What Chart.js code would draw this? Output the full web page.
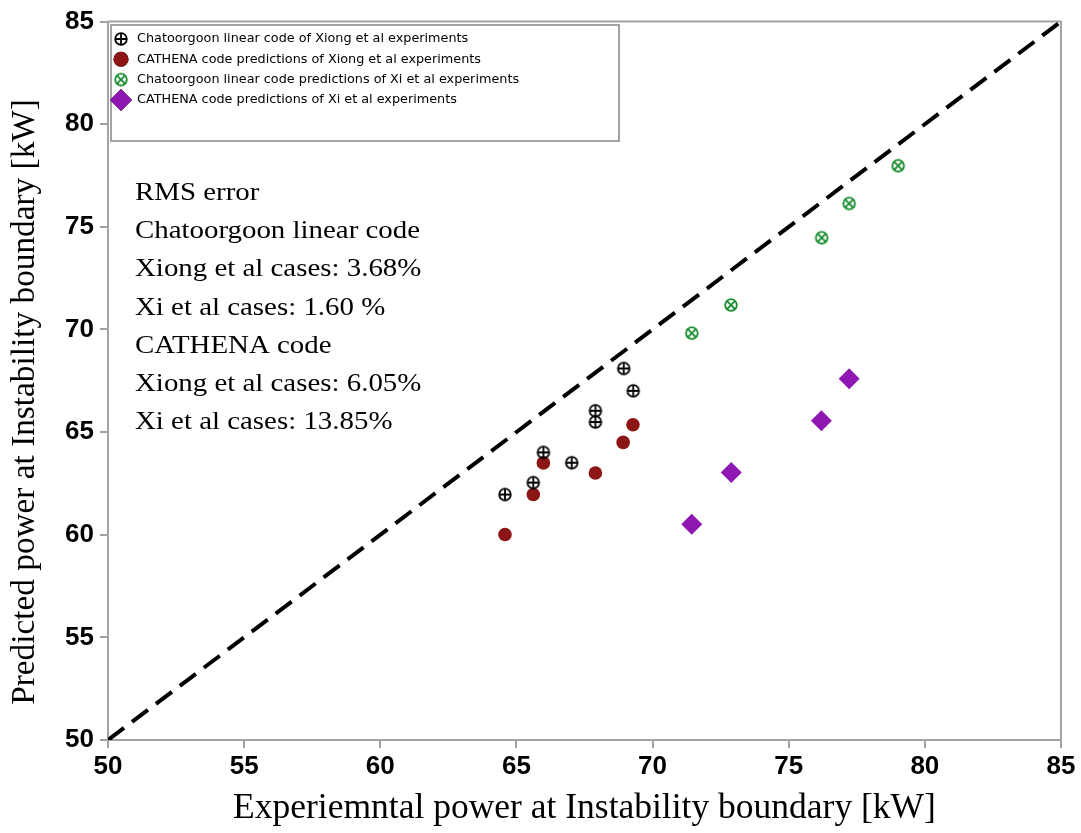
<!DOCTYPE html>
<html>
<head>
<meta charset="utf-8">
<script src="https://cdn.jsdelivr.net/npm/chart.js@4.4.1/dist/chart.umd.min.js"></script>
<style>
  html, body { margin: 0; padding: 0; background: #fff; }
  canvas { display: block; }
</style>
</head>
<body>
<canvas id="c" width="1081" height="833"></canvas>
<script>
// Experimental instability-boundary power [kW]
const xiongExpPower     = [64.58, 65.62, 65.99, 67.03, 67.90, 67.90, 68.94, 69.29];
const chatoorgoonXiong  = [61.96, 62.54, 64.01, 63.51, 65.49, 66.04, 68.10, 67.01];

const xiongExpPowerCath = [64.58, 65.62, 65.99, 67.90, 68.92, 69.28];
const cathenaXiong      = [60.01, 61.96, 63.50, 63.01, 64.50, 65.36];

const xiExpPower        = [71.44, 72.88, 76.21, 77.22, 79.02];
const chatoorgoonXi     = [69.82, 71.19, 74.47, 76.14, 77.98];

const xiExpPowerCath    = [71.44, 72.89, 76.20, 77.22];
const cathenaXi         = [60.51, 63.03, 65.55, 67.60];

// Reference line: predicted = experimental
const parityX = [50, 85];
const parityY = [50, 85];

const axisTicks = [50, 55, 60, 65, 70, 75, 80, 85];

const seriesLabels = [
  'Chatoorgoon linear code of Xiong et al experiments',
  'CATHENA code predictions of Xiong et al experiments',
  'Chatoorgoon linear code predictions of Xi et al experiments',
  'CATHENA code predictions of Xi et al experiments'
];

const rmsNotes = [
  'RMS error',
  'Chatoorgoon linear code',
  'Xiong et al cases: 3.68%',
  'Xi et al cases: 1.60 %',
  'CATHENA code',
  'Xiong et al cases: 6.05%',
  'Xi et al cases: 13.85%'
];

const xTitle = 'Experiemntal power at Instability boundary [kW]';
const yTitle = 'Predicted power at Instability boundary [kW]';

const GREY = '#a3a3a3';
const RED = '#8c1515';
const PURPLE = '#8f18b3';
const GREEN = '#138a2c';

function pairs(xs, ys) { return xs.map((x, i) => ({ x: x, y: ys[i] })); }

// Circle-with-cross marker glyphs
function crossCircle(color, rotated) {
  const c = document.createElement('canvas');
  c.width = 16; c.height = 16;
  const g = c.getContext('2d');
  g.strokeStyle = color;
  g.lineWidth = 1.8;
  g.beginPath(); g.arc(8, 8, 5.8, 0, Math.PI * 2); g.stroke();
  g.beginPath();
  if (rotated) {
    const d = 4.1;
    g.moveTo(8 - d, 8 - d); g.lineTo(8 + d, 8 + d);
    g.moveTo(8 + d, 8 - d); g.lineTo(8 - d, 8 + d);
  } else {
    g.moveTo(2.2, 8); g.lineTo(13.8, 8);
    g.moveTo(8, 2.2); g.lineTo(8, 13.8);
  }
  g.stroke();
  return c;
}
const plusMark = crossCircle('#000', false);
const timesMark = crossCircle(GREEN, true);

const framePlugin = {
  id: 'frame',
  beforeDatasetsDraw(chart) {
    const a = chart.chartArea, ctx = chart.ctx;
    ctx.save();
    ctx.strokeStyle = GREY;
    ctx.lineWidth = 2;
    ctx.beginPath();
    ctx.moveTo(a.left, a.top); ctx.lineTo(a.right, a.top); ctx.lineTo(a.right, a.bottom);
    ctx.stroke();
    ctx.restore();
  }
};

// Axis titles in a serif face, placed around the plot frame
const titlesPlugin = {
  id: 'axisTitles',
  afterDraw(chart) {
    const ctx = chart.ctx, a = chart.chartArea;
    ctx.save();
    ctx.fillStyle = '#000';
    ctx.textAlign = 'center';
    ctx.textBaseline = 'alphabetic';
    ctx.font = '35.5px "Liberation Serif"';
    ctx.fillText(xTitle, (a.left + a.right) / 2, 818);
    ctx.translate(34, 402);
    ctx.rotate(-Math.PI / 2);
    ctx.font = '33.3px "Liberation Serif"';
    ctx.fillText(yTitle, 0, 0);
    ctx.restore();
  }
};

const legendPlugin = {
  id: 'boxLegend',
  afterDraw(chart) {
    const ctx = chart.ctx, a = chart.chartArea;
    const bx = a.left + 3, by = 25, bw = 508, bh = 116;
    ctx.save();
    ctx.fillStyle = '#fff';
    ctx.fillRect(bx, by, bw, bh);
    ctx.strokeStyle = GREY;
    ctx.lineWidth = 2;
    ctx.strokeRect(bx, by, bw, bh);
    ctx.font = '12.8px "DejaVu Sans"';
    ctx.textBaseline = 'middle';
    for (let i = 0; i < 4; i++) {
      const ds = chart.data.datasets[i];
      const y = 39 + i * 20.3;
      Chart.helpers.drawPoint(ctx, {
        pointStyle: ds.pointStyle, radius: ds.legendRadius, rotation: 0,
        borderWidth: 0
      }, 121, y);
      if (typeof ds.pointStyle === 'string') {
        ctx.fillStyle = ds.backgroundColor;
        ctx.fill();
      }
      ctx.fillStyle = '#000';
      ctx.fillText(ds.label, 137, y);
    }
    ctx.restore();
  }
};

const notesPlugin = {
  id: 'rmsNotes',
  afterDraw(chart) {
    const ctx = chart.ctx;
    ctx.save();
    ctx.font = '26px "Liberation Serif"';
    ctx.fillStyle = '#000';
    ctx.textBaseline = 'alphabetic';
    const sx = 285 / ctx.measureText(rmsNotes[1]).width;
    ctx.translate(135, 0);
    ctx.scale(sx, 1);
    rmsNotes.forEach((t, i) => ctx.fillText(t, 0, 200 + i * 38.2));
    ctx.restore();
  }
};

const tickFont = { family: '"Liberation Sans"', size: 26, weight: 'bold' };

new Chart(document.getElementById('c'), {
  type: 'scatter',
  data: {
    datasets: [
      {
        label: seriesLabels[0], data: pairs(xiongExpPower, chatoorgoonXiong),
        pointStyle: plusMark, pointRadius: 7, legendRadius: 7, order: 1
      },
      {
        label: seriesLabels[1], data: pairs(xiongExpPowerCath, cathenaXiong),
        pointStyle: 'circle', pointRadius: 6.8, legendRadius: 7.5,
        backgroundColor: RED, borderColor: RED, borderWidth: 0, order: 2
      },
      {
        label: seriesLabels[2], data: pairs(xiExpPower, chatoorgoonXi),
        pointStyle: timesMark, pointRadius: 7, legendRadius: 7, order: 1
      },
      {
        label: seriesLabels[3], data: pairs(xiExpPowerCath, cathenaXi),
        pointStyle: 'rectRot', pointRadius: 10.5, legendRadius: 11,
        backgroundColor: PURPLE, borderColor: PURPLE, borderWidth: 0, order: 2
      },
      {
        type: 'line', label: 'parity', data: pairs(parityX, parityY),
        borderColor: '#000', borderWidth: 4, borderDash: [20, 10],
        pointRadius: 0, fill: false, order: 10
      }
    ]
  },
  options: {
    responsive: false,
    animation: false,
    events: [],
    layout: { padding: { top: 20, right: 20, bottom: 0, left: 0 } },
    plugins: { legend: { display: false }, tooltip: { enabled: false } },
    scales: {
      x: {
        type: 'linear', min: 50, max: 85,
        afterBuildTicks(s) { s.ticks = axisTicks.map(v => ({ value: v })); },
        ticks: { font: tickFont, color: '#000', padding: 3, maxRotation: 0 },
        grid: { drawOnChartArea: false, drawTicks: true, tickLength: 8, color: GREY, lineWidth: 2 },
        border: { color: GREY, width: 2 },
        afterFit(s) { s.height = 93; }
      },
      y: {
        type: 'linear', min: 50, max: 85,
        afterBuildTicks(s) { s.ticks = axisTicks.map(v => ({ value: v })); },
        ticks: { font: tickFont, color: '#000', padding: 6 },
        grid: { drawOnChartArea: false, drawTicks: true, tickLength: 8, color: GREY, lineWidth: 2 },
        border: { color: GREY, width: 2 },
        afterFit(s) { s.width = 108; }
      }
    }
  },
  plugins: [framePlugin, titlesPlugin, legendPlugin, notesPlugin]
});
</script>
</body>
</html>
